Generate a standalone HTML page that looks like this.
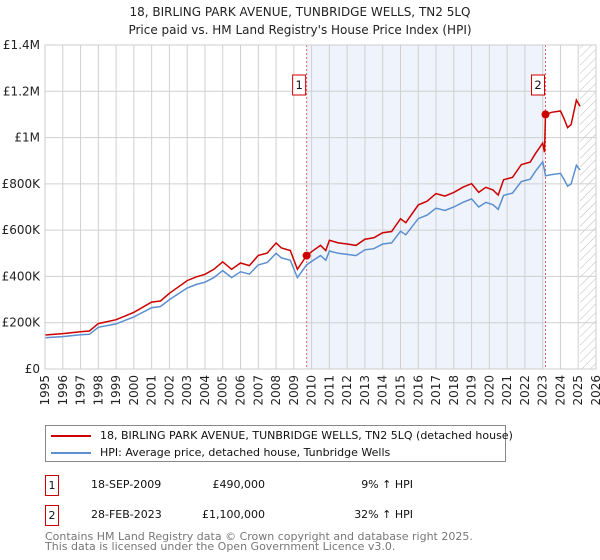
<!DOCTYPE html>
<html><head><meta charset="utf-8"><style>
body{margin:0;background:#fff;font-family:"DejaVu Sans","Liberation Sans",sans-serif;}
#wrap{position:relative;width:600px;height:560px;overflow:hidden}
</style></head><body>
<div id="wrap">
<svg id="chart" width="600" height="560" style="position:absolute;left:0;top:0">
<defs><pattern id="hatch" width="6" height="6" patternUnits="userSpaceOnUse" patternTransform="rotate(45)"><line x1="0" y1="0" x2="0" y2="6" stroke="#bbb" stroke-width="1"/></pattern></defs>
<text x="300" y="16" text-anchor="middle" font-size="12" fill="#222">18, BIRLING PARK AVENUE, TUNBRIDGE WELLS, TN2 5LQ</text>
<text x="300" y="34" text-anchor="middle" font-size="12" fill="#222">Price paid vs. HM Land Registry's House Price Index (HPI)</text>
<g id="plot"></g>
</svg>
<div style="position:absolute;left:45px;top:425px;width:459px;height:35px;border:1px solid #888;font-size:11px;color:#111">
 <div style="position:absolute;left:5px;top:3px;white-space:nowrap"><span style="display:inline-block;width:40px;height:2px;background:#cc0000;vertical-align:middle;margin-right:9px"></span>18, BIRLING PARK AVENUE, TUNBRIDGE WELLS, TN2 5LQ (detached house)</div>
 <div style="position:absolute;left:5px;top:20px;white-space:nowrap"><span style="display:inline-block;width:40px;height:2px;background:#5b8fd0;vertical-align:middle;margin-right:9px"></span>HPI: Average price, detached house, Tunbridge Wells</div>
</div>
<div style="position:absolute;top:475px;left:45px;font-size:11px;color:#111;width:400px;height:52px">
 <div style="position:absolute;left:0;top:0;width:12px;height:19px;border:1px solid #cc0000;text-align:center;line-height:19px">1</div>
 <div style="position:absolute;left:46px;top:3px">18-SEP-2009</div>
 <div style="position:absolute;left:150px;width:70px;text-align:right;top:3px">£490,000</div>
 <div style="position:absolute;left:270px;width:98px;text-align:right;top:3px">9% ↑ HPI</div>
 <div style="position:absolute;left:0;top:30px;width:12px;height:19px;border:1px solid #cc0000;text-align:center;line-height:19px">2</div>
 <div style="position:absolute;left:46px;top:33px">28-FEB-2023</div>
 <div style="position:absolute;left:150px;width:70px;text-align:right;top:33px">£1,100,000</div>
 <div style="position:absolute;left:270px;width:98px;text-align:right;top:33px">32% ↑ HPI</div>
</div>
<div style="position:absolute;left:45px;top:532px;font-size:11px;color:#777;line-height:10px">Contains HM Land Registry data © Crown copyright and database right 2025.<br>This data is licensed under the Open Government Licence v3.0.</div>
</div>
<script>
const dates=[1995,1996,1997,1997.5,1998,1999,2000,2001,2001.5,2002,2003,2003.5,2004,2004.5,2005,2005.5,2006,2006.5,2007,2007.5,2008,2008.3,2008.8,2009.2,2009.72,2010,2010.5,2010.8,2011,2011.5,2012,2012.5,2013,2013.5,2014,2014.5,2015,2015.3,2016,2016.5,2017,2017.5,2018,2018.5,2019,2019.4,2019.8,2020.2,2020.5,2020.8,2021.3,2021.8,2022.3,2022.6,2023,2023.1,2023.16,2023.5,2024,2024.2,2024.4,2024.6,2024.9,2025.1];
const hpiValues=[135,140,148,150,180,195,225,265,270,300,350,365,375,395,425,395,420,410,450,460,500,480,470,395,450,465,490,470,510,500,495,490,515,520,540,545,595,580,650,665,695,685,700,720,735,700,720,710,690,750,760,810,820,855,895,860,835,840,845,820,790,800,880,860];
const priceValues=[147,153,161,164,196,213,245,289,294,327,382,398,409,431,463,431,458,447,491,501,545,523,512,431,490,507,534,512,556,545,540,534,561,567,589,594,649,632,709,725,758,747,763,785,801,763,785,774,752,818,828,883,894,932,976,937,1100,1109,1115,1082,1043,1056,1162,1135];
const yTicks=[0,200,400,600,800,1000,1200,1400];
const yTickLabels=["£0","£200K","£400K","£600K","£800K","£1M","£1.2M","£1.4M"];
const sales=[{n:"1",d:2009.72,v:490},{n:"2",d:2023.16,v:1100}];
const X0=45,X1=596,Y0=369,Y1=45,XMIN=1995,XMAX=2026,YMAX=1400;
const xs=d=>X0+(d-XMIN)/(XMAX-XMIN)*(X1-X0);
const ys=v=>Y0-v/YMAX*(Y0-Y1);
const NS="http://www.w3.org/2000/svg";
const g=document.getElementById('plot');
function mk(t,a){const e=document.createElementNS(NS,t);for(const k in a)e.setAttribute(k,a[k]);g.appendChild(e);return e;}
let e=mk('rect',{x:xs(2009.72),y:Y1,width:xs(2023.16)-xs(2009.72),height:Y0-Y1,fill:'#eef3fc'});


e=mk('rect',{x:xs(2025.1),y:Y1,width:X1-xs(2025.1),height:Y0-Y1,fill:'url(#hatch)'});


for(let yr=XMIN;yr<=XMAX;yr++){
 e=mk('line',{x1:xs(yr),x2:xs(yr),y1:Y1,y2:Y0,stroke:'#d0d0d0','stroke-width':1});
 
 
 const t=mk('text',{transform:`translate(${xs(yr)+4},${Y0+6}) rotate(-90)`,'text-anchor':'end','font-size':12,fill:'#222'});
 t.textContent=yr;
 
 
}
yTicks.forEach((v,i)=>{
 e=mk('line',{x1:X0,x2:X1,y1:ys(v),y2:ys(v),stroke:'#d0d0d0','stroke-width':1});
 
 
 const t=mk('text',{x:X0-5,y:ys(v)+4,'text-anchor':'end','font-size':12,fill:'#222'});
 t.textContent=yTickLabels[i];
 
 
});
sales.forEach(s=>{
 e=mk('line',{x1:xs(s.d),x2:xs(s.d),y1:Y1,y2:Y0,stroke:'#e06060','stroke-width':1,'stroke-dasharray':'2,2'});
 
 
});
const pts=a=>a.map((v,i)=>xs(dates[i]).toFixed(1)+','+ys(v).toFixed(1)).join(' ');
e=mk('polyline',{points:pts(hpiValues),fill:'none',stroke:'#5b8fd0','stroke-width':1.5});


e=mk('polyline',{points:pts(priceValues),fill:'none',stroke:'#cc0000','stroke-width':1.5});


sales.forEach(s=>{
 e=mk('circle',{cx:xs(s.d),cy:ys(s.v),r:4,fill:'#cc0000'});
 
 
 const bx=xs(s.d)-13;
 e=mk('rect',{x:bx-1,y:75,width:13,height:20,fill:'#fff',stroke:'#cc0000'});
 
 
 const t=mk('text',{x:bx+5.5,y:89,'text-anchor':'middle','font-size':11.5,fill:'#111'});
 t.textContent=s.n;
 
 
});
e=mk('rect',{x:X0,y:Y1,width:X1-X0,height:Y0-Y1,fill:'none',stroke:'#ccc'});


</script>
</body></html>
